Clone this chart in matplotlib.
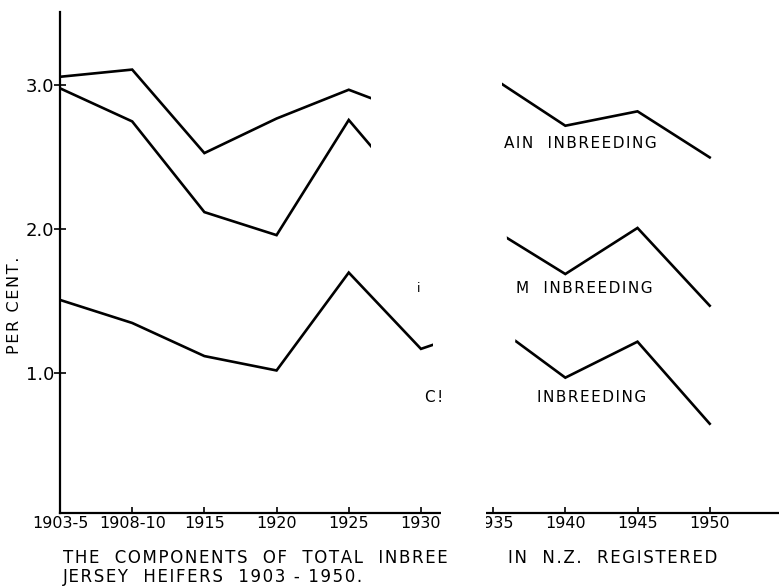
import numpy as np
import matplotlib
matplotlib.use("Agg")
import matplotlib.pyplot as plt
from matplotlib.patches import Polygon

# x categories (evenly spaced on the chart)
periods = ["1903-5", "1908-10", "1915", "1920", "1925", "1930", "1935", "1940", "1945", "1950"]

# values; 1930/1935 of the upper two lines sit in the
# damaged part of the page, so they are rough guesses
upper = [3.06, 3.11, 2.53, 2.77, 2.97, 2.78, 3.05, 2.72, 2.82, 2.50]
middle = [2.98, 2.75, 2.12, 1.96, 2.76, 2.17, 2.00, 1.69, 2.01, 1.47]
lower = [1.51, 1.35, 1.12, 1.02, 1.70, 1.17, 1.34, 0.97, 1.22, 0.65]

ytick_vals = [1.0, 2.0, 3.0]
ytick_labels = ["1.0", "2.0", "3.0"]

HAIR = "\u200a"


def spaced(s):
    # the original is hand lettered with wide tracking
    return HAIR.join(s)


W, H = 779, 588
fig = plt.figure(figsize=(W / 100, H / 100), dpi=100)
ax = fig.add_axes([60 / W, 1 - 513 / H, 1 - 60 / W, (513 - 12) / H])

x = np.arange(len(periods))
for series in (upper, middle, lower):
    ax.plot(x, series, color="black", lw=1.9, solid_joinstyle="miter")

ax.set_xlim(0, 9.96)
ax.set_ylim(0.03, 3.51)
ax.spines["top"].set_visible(False)
ax.spines["right"].set_visible(False)
for s in ("left", "bottom"):
    ax.spines[s].set_linewidth(1.6)

ax.set_xticks(x)
ax.set_xticklabels(periods, fontsize=11.5)
ax.set_yticks(ytick_vals)
ax.set_yticklabels(ytick_labels, fontsize=13)
ax.tick_params(axis="x", direction="in", length=4, width=1.2, pad=2)
ax.tick_params(axis="y", direction="inout", length=8, width=1.2, pad=0)

ax.set_ylabel(spaced("PER CENT."), fontsize=11.5)
ax.yaxis.set_label_coords(-0.053, 0.415)

# line labels (only the parts that survive on the page)
lab = dict(fontsize=11, va="center", ha="left")
ax.text(6.15, 2.60, spaced("AIN  INBREEDING"), **lab)
ax.text(4.94, 1.59, "i", fontsize=9, va="center", ha="left")
ax.text(6.32, 1.59, spaced("M  INBREEDING"), **lab)
ax.text(5.06, 0.83, spaced("C!"), **lab)
ax.text(6.61, 0.83, spaced("INBREEDING"), **lab)

# white blotch where the scan is damaged
blotch_px = [(371, 0), (502, 0), (502, 150), (507, 240), (514, 283), (516, 335),
             (505, 420), (490, 470), (486, 505), (486, 535), (480, 548), (480, 588),
             (451, 588), (451, 540), (441, 520), (441, 380), (433, 355), (433, 335),
             (423, 300), (423, 275), (371, 170)]
blotch = Polygon([(px / W, 1 - py / H) for px, py in blotch_px], closed=True,
                 transform=fig.transFigure, facecolor="white", edgecolor="none",
                 zorder=20)
fig.add_artist(blotch)

# caption
cap = dict(fontsize=12, va="center", ha="left")
fig.text(63 / W, 1 - 558 / H, spaced("THE  COMPONENTS  OF  TOTAL  INBREE"), **cap)
fig.text(508 / W, 1 - 558 / H, spaced("IN  N.Z.  REGISTERED"), **cap)
fig.text(63 / W, 1 - 577 / H, spaced("JERSEY  HEIFERS  1903 - 1950."), **cap)

fig.savefig("out.png", dpi=100)
